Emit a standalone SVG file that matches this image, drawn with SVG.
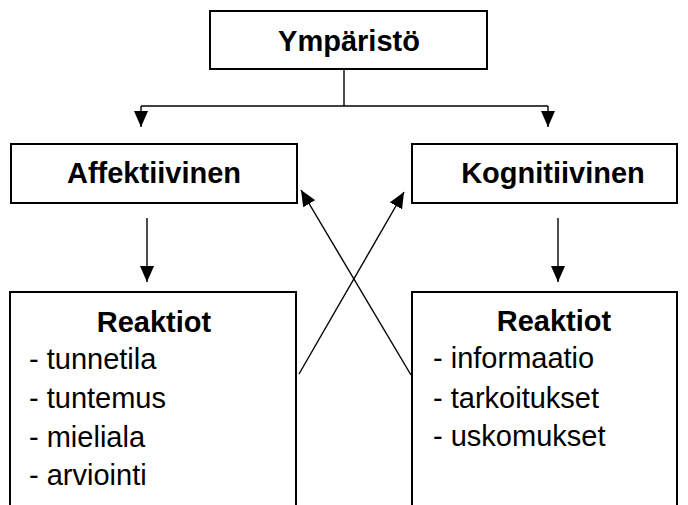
<svg xmlns="http://www.w3.org/2000/svg" width="688" height="505" viewBox="0 0 688 505">
  <style>
    .box { fill: #ffffff; stroke: #000000; stroke-width: 2; }
    .title { font-family: "Liberation Sans", Arial, sans-serif; font-weight: bold; font-size: 29px; fill: #000000; text-anchor: middle; }
    .item { font-family: "Liberation Sans", Arial, sans-serif; font-size: 29px; fill: #000000; }
    .link { fill: none; stroke: #000000; stroke-width: 1.4; }
  </style>
  <defs>
    <marker id="arrow" viewBox="0 0 16 14" refX="16" refY="7" markerWidth="16" markerHeight="14" markerUnits="userSpaceOnUse" orient="auto">
      <path d="M0,0 L16,7 L0,14 Z" fill="#000000"/>
    </marker>
  </defs>
  <rect width="688" height="505" fill="#ffffff"/>

  <g id="connectors">
    <path class="link" d="M344,69 V106"/>
    <path class="link" d="M141,106 H548"/>
    <path class="link" d="M141,106 V127" marker-end="url(#arrow)"/>
    <path class="link" d="M548,106 V127" marker-end="url(#arrow)"/>
    <path class="link" d="M147,218 V282" marker-end="url(#arrow)"/>
    <path class="link" d="M558,218 V282" marker-end="url(#arrow)"/>
    <path class="link" d="M299,374 L404,192" marker-end="url(#arrow)"/>
    <path class="link" d="M411,375 L301,190" marker-end="url(#arrow)"/>
  </g>

  <g id="ymparisto">
    <rect class="box" x="210" y="11" width="277" height="58"/>
    <text class="title" x="349" y="51">Ympäristö</text>
  </g>

  <g id="affektiivinen">
    <rect class="box" x="11" y="144" width="286" height="59"/>
    <text class="title" x="154" y="183">Affektiivinen</text>
  </g>

  <g id="kognitiivinen">
    <rect class="box" x="412" y="144" width="265" height="59"/>
    <text class="title" x="553" y="183">Kognitiivinen</text>
  </g>

  <g id="reaktiot-affektiivinen">
    <path class="box" d="M10,506 V292 H296 V506"/>
    <text class="title" x="154" y="332">Reaktiot</text>
    <text class="item" x="29" y="369">- tunnetila</text>
    <text class="item" x="29" y="408">- tuntemus</text>
    <text class="item" x="29" y="447">- mieliala</text>
    <text class="item" x="29" y="485">- arviointi</text>
  </g>

  <g id="reaktiot-kognitiivinen">
    <path class="box" d="M412,506 V292 H677 V506"/>
    <text class="title" x="554" y="331">Reaktiot</text>
    <text class="item" x="433" y="368">- informaatio</text>
    <text class="item" x="433" y="408">- tarkoitukset</text>
    <text class="item" x="433" y="446">- uskomukset</text>
  </g>
</svg>
